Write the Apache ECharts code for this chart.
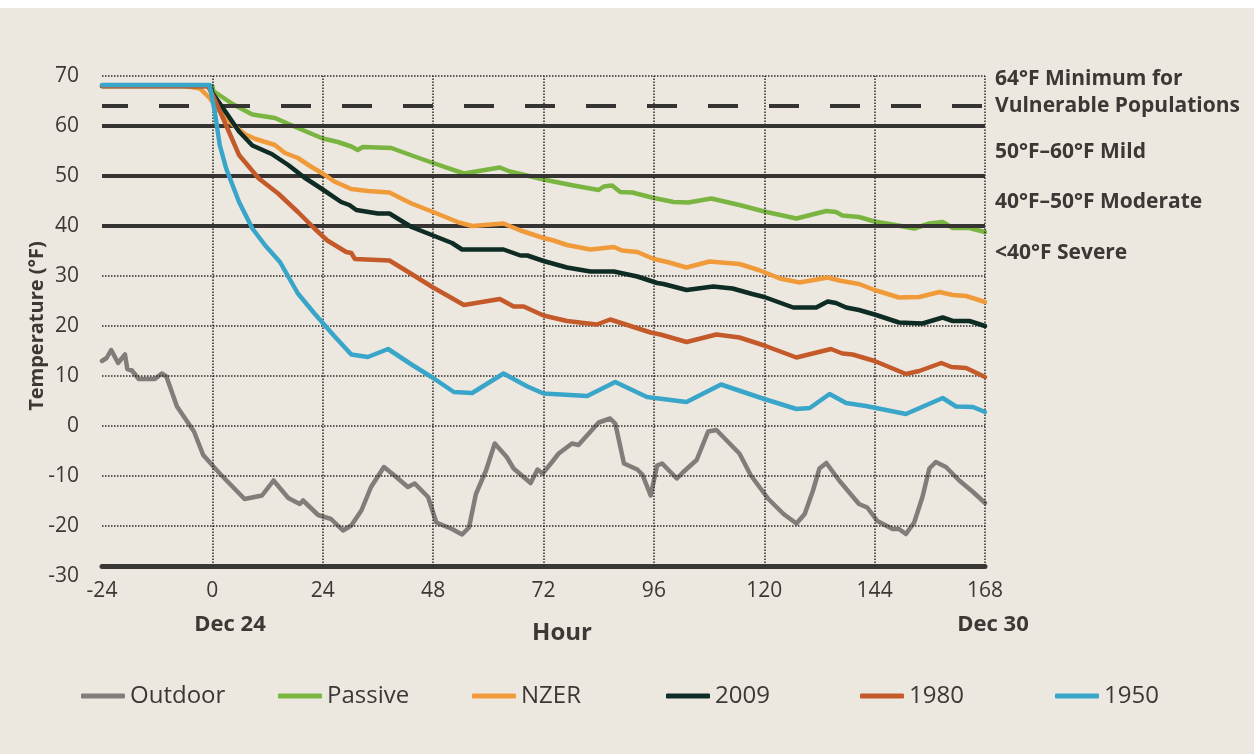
<!DOCTYPE html>
<html>
<head>
<meta charset="utf-8">
<script src="https://cdn.jsdelivr.net/npm/echarts@6/dist/echarts.min.js"></script>
<style>
html,body{margin:0;padding:0;background:#ece8e0;}
#chart{width:1254px;height:754px;}
</style>
</head>
<body>
<div id="chart"></div>
<script>
// ---------- DATA ----------
const seriesNames = ['Outdoor', 'Passive', 'NZER', '2009', '1980', '1950'];
const xTicks = [-24, 0, 24, 48, 72, 96, 120, 144, 168];
const yTicks = [70, 60, 50, 40, 30, 20, 10, 0, -10, -20, -30];
const dottedLevels = [70, 30, 20, 10, 0, -10, -20];
const solidLevels = [60, 50, 40];
const dashedLevel = 64;
const rightLabels = ['64°F Minimum for', 'Vulnerable Populations', '50°F–60°F Mild', '40°F–50°F Moderate', '<40°F Severe'];

const outdoorHours = [-24,-23,-22,-20.5,-19,-18.5,-17.5,-16,-12.5,-11,-10,-7.7,-4,-2,1.6,7,10.8,13.3,16.5,19,19.7,23,25.8,28.4,30.2,32.4,34.5,37.3,39.6,42.5,44,46.9,48.7,52.1,54.3,55.8,57.3,59.5,61.4,64,65.5,69.2,70.7,71.8,73.6,75.3,78.2,79.6,84,86.5,87.6,89.5,92.4,93.5,95.3,96.7,97.8,101,102.4,105.3,107.8,109.6,114.6,117.1,120.9,124.2,127,128.8,130.6,132,133.5,136.3,140.6,142.4,144.6,147.9,149.3,150.8,152.6,154.4,155.9,157.3,159.5,162.4,165.4,168];
const outdoorTemps = [13,13.6,15.2,12.6,14.3,11.4,11.1,9.4,9.4,10.5,9.9,3.9,-1.1,-5.8,-9.5,-14.6,-13.9,-10.9,-14.4,-15.6,-14.9,-17.8,-18.6,-20.9,-19.9,-16.9,-12.2,-8.2,-9.9,-12.2,-11.5,-14.2,-19.3,-20.6,-21.7,-20.3,-13.6,-8.9,-3.5,-6.2,-8.5,-11.4,-8.7,-9.5,-7.5,-5.5,-3.5,-3.8,0.7,1.5,0.5,-7.5,-8.7,-9.7,-13.9,-7.9,-7.5,-10.5,-9.2,-6.8,-1.1,-0.8,-5.5,-9.9,-14.6,-17.6,-19.5,-17.6,-12.9,-8.5,-7.4,-10.9,-15.6,-16.3,-19,-20.6,-20.6,-21.6,-19.3,-14.2,-8.5,-7.2,-8.2,-10.9,-13.2,-15.4];

const passiveHours = [-24,0,0.2,4.4,8.7,13.6,18.6,24,27.3,30.2,31.6,32.7,38.9,44,48,54.7,62.5,64.7,68.4,72,78.5,84,85.1,86.9,88.7,91.3,96,100.3,103.5,108.5,114.6,120,127,133.5,135.6,137,140.6,144,147.9,152.6,155.9,158.8,161,164.6,168];
const passiveTemps = [68,68,67,64.4,62.3,61.6,59.6,57.5,56.8,55.9,55.2,55.8,55.6,53.9,52.6,50.5,51.7,50.9,50.1,49.3,48.1,47.2,47.9,48.1,46.8,46.7,45.6,44.8,44.7,45.5,44.2,42.9,41.5,43,42.8,42.1,41.8,40.9,40.3,39.5,40.5,40.8,39.6,39.6,38.8];

const nzerHours = [-24,-6,-2.7,-0.6,1.6,4.4,7.2,9.4,13.6,15.8,18.6,21.4,24,26.5,30.2,33.8,38.5,43.3,48,53.6,56.5,63.3,67,72,74.2,77.1,82.2,87.3,89.1,92.4,96,98.9,103.1,108.1,114.6,119.1,123.4,127.7,133.8,136.3,140.6,144,149.3,153.7,158.1,161,163.9,168];
const nzerTemps = [68,68,67.5,65.6,63,60.3,58.3,57.4,56.2,54.6,53.6,51.9,50.5,48.9,47.4,47,46.7,44.5,42.8,40.7,40,40.5,39.1,37.6,37.1,36.2,35.3,35.8,35.1,34.8,33.4,32.8,31.7,32.9,32.4,31.1,29.5,28.7,29.7,29.1,28.4,27.2,25.7,25.8,26.8,26.2,26,24.8];

const y2009Hours = [-24,-0.5,0,2.3,5.8,8.7,12.9,16.5,20,24,28,29.8,31.3,36,38.5,43.3,48,52.1,54.3,63.3,67,68.5,72,77.1,82.2,87.3,92.4,96.7,98.1,103.1,108.9,113.1,117.4,120,126.3,131.3,133.8,135.6,137.8,140.6,144,149.3,154.4,158.8,161,164.6,168];
const y2009Temps = [68,68,66.6,63.6,58.9,56.1,54.4,52.2,49.7,47.3,44.8,44.2,43.2,42.5,42.5,39.8,38.1,36.6,35.3,35.3,34.1,34.1,33,31.7,30.9,30.9,29.9,28.6,28.4,27.2,27.9,27.5,26.4,25.8,23.7,23.7,24.9,24.6,23.7,23.2,22.3,20.7,20.5,21.7,21,21,20];

const y1980Hours = [-24,-1,0,2.3,5.8,10.1,14.3,18.6,22.2,25,29.1,30.2,31,38.5,43.3,48,54.7,62.5,65.5,67.7,72,77.1,83.6,86.5,95.3,97.4,103.1,109.6,114.6,120,127,134.5,137,139.2,144,150.8,153.7,158.5,160.7,163.9,168];
const y1980Temps = [68,68,66.3,61.6,54.2,49.5,46.5,42.8,39.5,37.1,34.8,34.6,33.4,33.1,30.4,27.7,24.2,25.4,23.9,23.9,22.1,21,20.3,21.3,18.7,18.3,16.8,18.3,17.7,16.1,13.7,15.4,14.5,14.3,13,10.4,11,12.6,11.8,11.6,9.8];

const y1950Hours = [-24,-0.6,0.5,1.6,3,5.8,8.7,11.5,14.7,18.6,22.2,26.5,30.2,33.8,38.2,43.3,48,52.5,56.5,63.3,68.5,72,81.5,87.6,94.5,103.1,110.6,120,127,129.9,134.2,137.8,142.1,150.8,158.8,161.7,165.4,168];
const y1950Temps = [68.2,68.2,63,56.2,51.5,44.8,39.5,36.1,32.8,26.5,22.5,18,14.3,13.8,15.4,12.3,9.6,6.8,6.6,10.5,7.9,6.5,6,8.8,5.8,4.8,8.3,5.4,3.4,3.6,6.4,4.6,4,2.4,5.6,3.9,3.8,2.8];

// ---------- STYLE ----------
const colors = ['#807d7a', '#7ab542', '#f09a3a', '#0e2b24', '#c4592a', '#39a6c9'];
const legendLefts = [76, 273, 467, 661, 855, 1050];
const ink = '#3b3835';
const FONT = '"Open Sans", "Noto Sans", sans-serif';

function zip(h, v) { return h.map((x, i) => [x, v[i]]); }
const allData = [
  zip(outdoorHours, outdoorTemps),
  zip(passiveHours, passiveTemps),
  zip(nzerHours, nzerTemps),
  zip(y2009Hours, y2009Temps),
  zip(y1980Hours, y1980Temps),
  zip(y1950Hours, y1950Temps)
];

const xMin = xTicks[0], xMax = xTicks[xTicks.length - 1];
const frameBottom = -28;

const dotStyle = { color: '#2b2927', width: 1.5, type: [1.5, 1.5] };
const markData = [];
dottedLevels.forEach(v => markData.push({ yAxis: v, lineStyle: dotStyle }));
xTicks.slice(1).forEach(x => markData.push([
  { coord: [x, frameBottom], lineStyle: dotStyle },
  { coord: [x, yTicks[0]] }
]));
solidLevels.forEach(v => markData.push({ yAxis: v, lineStyle: { color: '#363432', width: 4, type: 'solid' } }));
markData.push({ yAxis: dashedLevel, lineStyle: { color: '#363432', width: 4, type: [30, 31], dashOffset: 4 } });
markData.push([
  { coord: [xMin, frameBottom], lineStyle: { color: '#3a3836', width: 5, type: 'solid' } },
  { coord: [xMin, yTicks[0] + 1] }
]);

const series = [{
  name: '_ref',
  type: 'line',
  data: [],
  z: 1,
  silent: true,
  markLine: {
    silent: true,
    symbol: ['none', 'none'],
    label: { show: false },
    animation: false,
    data: markData
  }
}];
seriesNames.forEach((n, i) => {
  series.push({
    name: n,
    type: 'line',
    data: allData[i],
    showSymbol: false,
    symbol: 'none',
    z: 3 + i,
    lineStyle: { color: colors[i], width: 4.5, cap: 'round', join: 'round' },
    itemStyle: { color: colors[i] }
  });
});

const legends = seriesNames.map((n, i) => ({
  data: [n],
  left: legendLefts[i],
  top: 679,
  icon: 'roundRect',
  itemWidth: 44,
  itemHeight: 5,
  textStyle: { fontSize: 24, color: ink, fontFamily: FONT }
}));

const RF = 'bold 21px ' + FONT;
const graphics = [
  { type: 'rect', left: 0, top: 0, shape: { width: 1254, height: 8 }, style: { fill: '#ffffff' }, silent: true },
  { type: 'text', left: 995, top: 69, style: { text: rightLabels[0], font: RF, fill: ink } },
  { type: 'text', left: 995, top: 96, style: { text: rightLabels[1], font: RF, fill: ink } },
  { type: 'text', left: 995, top: 142, style: { text: rightLabels[2], font: RF, fill: ink } },
  { type: 'text', left: 995, top: 192, style: { text: rightLabels[3], font: RF, fill: ink } },
  { type: 'text', left: 995, top: 243, style: { text: rightLabels[4], font: RF, fill: ink } },
  { type: 'text', x: 230, y: 625, style: { text: 'Dec 24', font: 'bold 22px ' + FONT, fill: ink, textAlign: 'center', textVerticalAlign: 'middle' } },
  { type: 'text', x: 993, y: 625, style: { text: 'Dec 30', font: 'bold 22px ' + FONT, fill: ink, textAlign: 'center', textVerticalAlign: 'middle' } },
  { type: 'text', x: 562, y: 633, style: { text: 'Hour', font: 'bold 24px ' + FONT, fill: ink, textAlign: 'center', textVerticalAlign: 'middle' } }
];

const chart = echarts.init(document.getElementById('chart'), null, { renderer: 'canvas' });
chart.setOption({
  animation: false,
  backgroundColor: '#ece8e0',
  textStyle: { fontFamily: FONT },
  grid: { left: 102, right: 269, top: 76, bottom: 178, containLabel: false },
  legend: legends,
  xAxis: {
    type: 'value',
    min: xMin,
    max: xMax,
    interval: 24,
    offset: -10,
    axisLine: { show: true, onZero: false, lineStyle: { color: '#3a3836', width: 5 } },
    axisTick: { show: false },
    splitLine: { show: false },
    axisLabel: { fontSize: 21, color: ink, margin: 15, fontFamily: FONT }
  },
  yAxis: {
    type: 'value',
    min: yTicks[yTicks.length - 1],
    max: yTicks[0],
    interval: 10,
    name: 'Temperature (°F)',
    nameLocation: 'middle',
    nameGap: 55,
    nameMoveOverlap: false,
    nameTextStyle: { fontSize: 20, fontWeight: 'bold', color: ink, fontFamily: FONT },
    axisLine: { show: false },
    axisTick: { show: false },
    splitLine: { show: false },
    axisLabel: { fontSize: 21, color: ink, margin: 23, fontFamily: FONT }
  },
  graphic: graphics,
  series: series
});
</script>
</body>
</html>
